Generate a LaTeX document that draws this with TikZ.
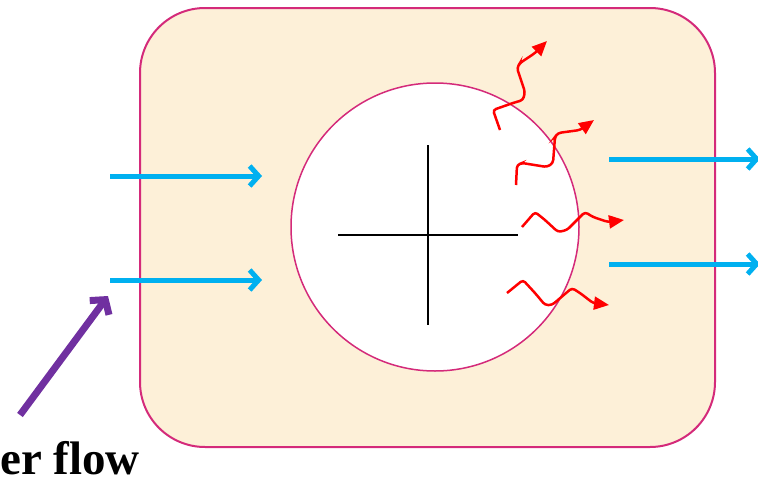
\documentclass[tikz,border=0pt]{standalone}
\usepackage{fontspec}
\setmainfont{Liberation Serif}
\usetikzlibrary{arrows.meta}
\definecolor{boxpink}{HTML}{D42A7A}
\definecolor{boxfill}{HTML}{FDF0D8}
\definecolor{flowblue}{HTML}{00B0F0}
\definecolor{flowpurple}{HTML}{7030A0}
\definecolor{heatred}{HTML}{FF0000}
\tikzset{
  cellbox/.style={draw=boxpink, line width=2pt, fill=boxfill, rounded corners=65pt},
  core/.style={draw=boxpink, line width=1.5pt, fill=white},
  crossline/.style={draw=black, line width=2pt},
  flowarrow/.style={draw=flowblue, line width=5pt, -{Straight Barb[length=9pt,width=20pt,line width=5pt]}},
  pointer/.style={draw=flowpurple, line width=7pt, line cap=butt, -{Straight Barb[length=10pt,width=24pt,line width=7pt]}},
  heat/.style={draw=heatred, line width=2.5pt, rounded corners=3pt, -{Triangle[length=15pt,width=13pt]}},
  label/.style={font=\bfseries\fontsize{47}{50}\selectfont, inner sep=0pt}
}
\begin{document}
\begin{tikzpicture}[x=1pt,y=-1pt]
\useasboundingbox (0,0) rectangle (758,482);
% cell
\draw[cellbox] (140,8) rectangle (715,447);
\draw[core] (435,227) circle (144);
% cross
\draw[crossline] (338,235) -- (518,235);
\draw[crossline] (428,145) -- (428,325);
% blue flows
\coordinate (li1) at (110,176); \coordinate (lo1) at (262,176);
\coordinate (li2) at (110,280); \coordinate (lo2) at (262,280);
\coordinate (ri1) at (609,159); \coordinate (ro1) at (760,159);
\coordinate (ri2) at (609,264); \coordinate (ro2) at (760,264);
\draw[flowarrow] (li1) -- (lo1);
\draw[flowarrow] (li2) -- (lo2);
\draw[flowarrow] (ri1) -- (ro1);
\draw[flowarrow] (ri2) -- (ro2);
% purple pointer
\coordinate (ps) at (20,415); \coordinate (pe) at (108,296);
\draw[pointer] (ps) -- (pe);
% heat arrows
\draw[heat] (500,130) -- (493,110) -- (513,103) -- (523,100) -- (525,92) -- (517,68) -- (520,63) -- (535,53) -- (547,41);
\draw[heat] (516,185) -- (517,165) -- (522,163) -- (547,167) -- (553,163) -- (555,137) -- (558,133) -- (580,130) -- (594,120);
\draw[heat] (522,227) -- (535,212) -- (545,220) -- (558,232) -- (567,230) -- (585,212) -- (593,217) -- (608,222) -- (624,220);
\draw[heat] (507,293) -- (523,280) -- (535,293) -- (545,305) -- (552,305) -- (572,288) -- (580,293) -- (593,303) -- (609,305);
% text
\node[label, anchor=base west] (lbl) at (0,474) {er flow};
\end{tikzpicture}
\end{document}
